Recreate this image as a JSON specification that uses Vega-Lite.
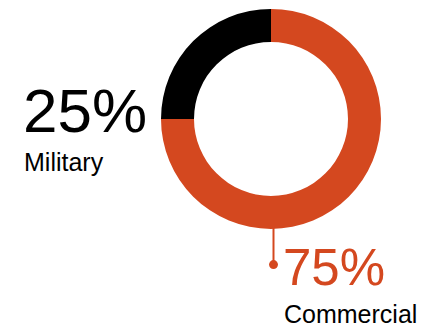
{
  "$schema": "https://vega.github.io/schema/vega-lite/v6.json",
  "width": 427,
  "height": 328,
  "padding": 0,
  "autosize": {"type": "fit", "contains": "padding"},
  "background": "white",
  "config": {"view": {"stroke": null}},
  "datasets": {
    "shares": [
      {"segment": "Commercial", "share": 75, "rank": 1, "cx": 271, "cy": 120},
      {"segment": "Military", "share": 25, "rank": 2, "cx": 271, "cy": 120}
    ],
    "labels": [
      {"text": "25%", "kind": "big", "segment": "Military", "x": 23, "y": 133},
      {"text": "Military", "kind": "small", "segment": "Military", "x": 24, "y": 173},
      {"text": "75%", "kind": "big", "segment": "Commercial", "x": 283, "y": 288},
      {"text": "Commercial", "kind": "small", "segment": "Commercial", "x": 284, "y": 326}
    ],
    "leader": [
      {"x": 273.5, "y1": 229, "y2": 267}
    ]
  },
  "layer": [
    {
      "data": {"name": "shares"},
      "mark": {"type": "arc", "outerRadius": 110, "innerRadius": 77},
      "encoding": {
        "x": {"field": "cx", "type": "quantitative", "scale": {"domain": [0, 427], "nice": false, "zero": false}, "axis": null},
        "y": {"field": "cy", "type": "quantitative", "scale": {"domain": [0, 328], "nice": false, "zero": false, "reverse": true}, "axis": null},
        "theta": {"field": "share", "type": "quantitative", "stack": true},
        "order": {"field": "rank", "type": "quantitative"},
        "color": {"field": "segment", "type": "nominal", "scale": {"domain": ["Commercial", "Military"], "range": ["#D4481F", "#000000"]}, "legend": null}
      }
    },
    {
      "data": {"name": "leader"},
      "mark": {"type": "rule", "color": "#D4481F", "strokeWidth": 2},
      "encoding": {
        "x": {"field": "x", "type": "quantitative"},
        "y": {"field": "y1", "type": "quantitative"},
        "y2": {"field": "y2"}
      }
    },
    {
      "data": {"name": "leader"},
      "mark": {"type": "circle", "color": "#D4481F", "opacity": 1, "size": 80},
      "encoding": {
        "x": {"field": "x", "type": "quantitative"},
        "y": {"field": "y2", "type": "quantitative"}
      }
    },
    {
      "data": {"name": "labels"},
      "transform": [{"filter": "datum.kind === 'big' && datum.segment === 'Military'"}],
      "mark": {"type": "text", "align": "left", "baseline": "alphabetic", "font": "Liberation Sans", "fontSize": 62},
      "encoding": {
        "x": {"field": "x", "type": "quantitative"},
        "y": {"field": "y", "type": "quantitative"},
        "text": {"field": "text"},
        "color": {"field": "segment", "type": "nominal", "legend": null}
      }
    },
    {
      "data": {"name": "labels"},
      "transform": [{"filter": "datum.kind === 'big' && datum.segment === 'Commercial'"}],
      "mark": {"type": "text", "align": "left", "baseline": "alphabetic", "font": "Liberation Sans", "fontSize": 51},
      "encoding": {
        "x": {"field": "x", "type": "quantitative"},
        "y": {"field": "y", "type": "quantitative"},
        "text": {"field": "text"},
        "color": {"field": "segment", "type": "nominal", "legend": null}
      }
    },
    {
      "data": {"name": "labels"},
      "transform": [{"filter": "datum.kind === 'small'"}],
      "mark": {"type": "text", "align": "left", "baseline": "alphabetic", "font": "Liberation Sans", "fontSize": 25, "color": "#000000"},
      "encoding": {
        "x": {"field": "x", "type": "quantitative"},
        "y": {"field": "y", "type": "quantitative"},
        "text": {"field": "text"}
      }
    }
  ]
}
